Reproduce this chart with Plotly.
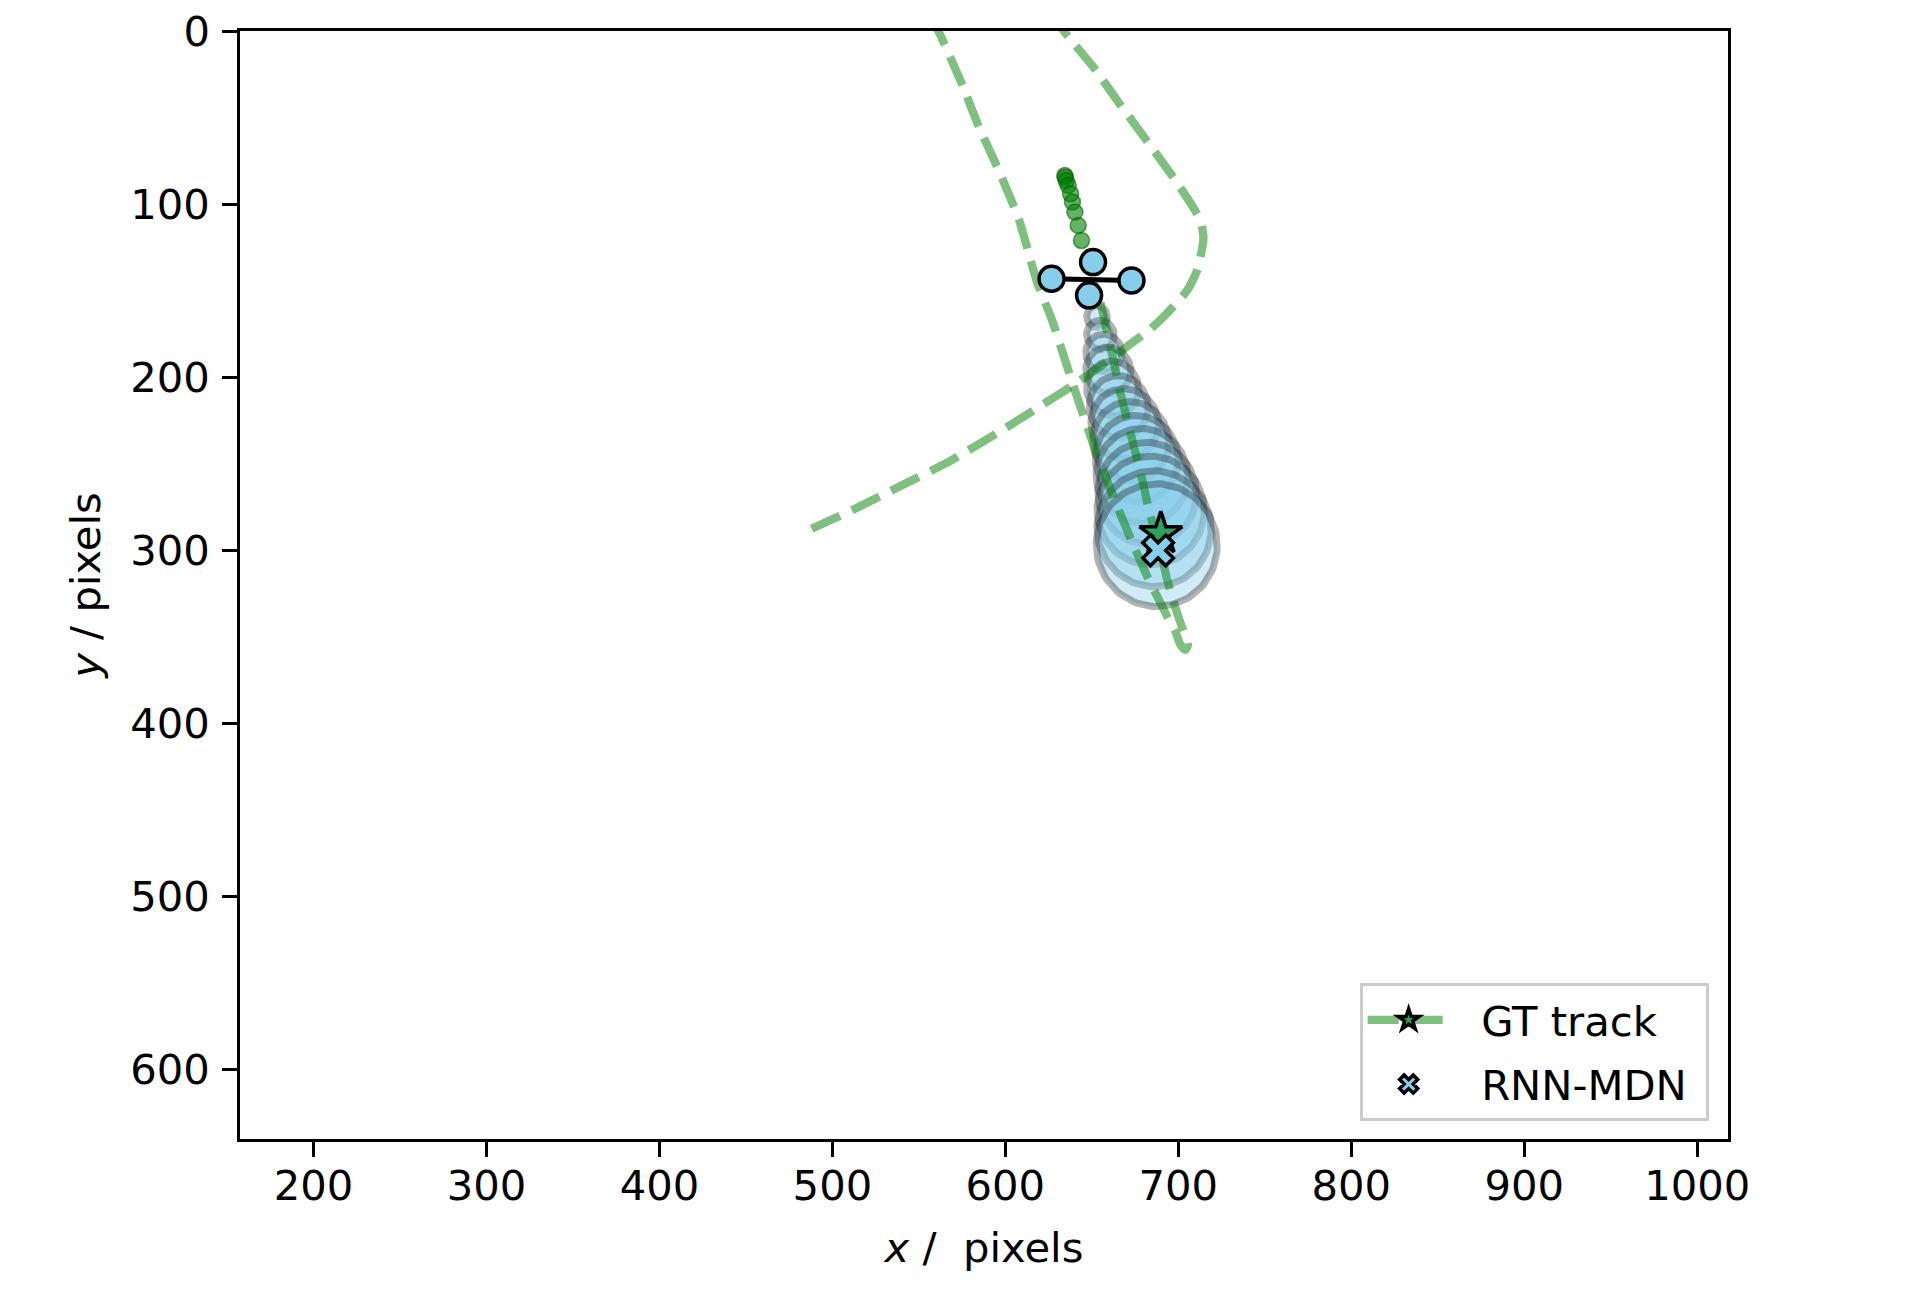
import numpy as np
import plotly.graph_objects as go

# ---------------- data ----------------
# GT track: curved segment (A) and long segment with hook (B), separated by None
gt_x = [488, 514, 537, 566, 599, 627.6, 643, 658, 672, 684, 693, 705, 711, 714.5, 713, 708.5,
        697, 681.6, 666, 651, 635, 628,
        None,
        557, 562, 574, 585, 597, 608, 618, 627, 634.5, 641, 652, 659, 666.5, 674.5, 682, 689,
        694, 698, 701, 704, 705.5, 704.5, 702.8, 700.8, 697, 693.2, 689.3, 683.5, 679.6,
        673.9, 666.2, 660.4, 654.6, 651]
gt_y = [287.5, 275.5, 264, 249.5, 230, 212, 202, 191.5, 181, 172, 163.5, 150, 138, 120, 110, 101.7,
        84.4, 63.2, 42, 21, 1.6, -8,
        None,
        -8, 1.6, 28.5, 56, 82.4, 109.4, 144, 167, 190, 210, 242, 260, 279, 298, 315, 329,
        339, 346, 354, 357.5, 355, 350, 346, 340.5, 329, 315.5, 298.2, 278.9, 261,
        238.4, 207.6, 180.6, 155.6, 145]

# GT position at prediction horizon
gt_star_x = [689.9]
gt_star_y = [290.4]

# RNN-MDN prediction (mean)
pred_x = [688.3]
pred_y = [300.0]

# predicted uncertainty ellipses (centre, half-widths, tilt in degrees)
ell_cx = [653, 655, 657, 659.5, 662, 665.5, 669, 672.5, 676, 679, 682, 684, 686, 687.5]
ell_cy = [165, 175.5, 186, 196, 206.5, 217, 227, 237, 247, 257, 267, 277, 287.5, 297]
ell_rx = [6, 8, 10.5, 13, 15, 17, 19.5, 22, 24, 26.5, 28.5, 31, 33, 35]
ell_ry = [6.5, 8.5, 11, 13.5, 16, 18, 20.5, 23, 25, 27.5, 29.5, 31.5, 33.5, 35.5]
ell_tilt = [14] * 14

# observed trail of the drone
trail_x = [634.4, 634.6, 635.2, 636.3, 637.7, 638.8, 640.2, 642.1, 644.0]
trail_y = [83.4, 84.5, 86.5, 89.2, 94.0, 98.8, 104.6, 112.3, 121.0]

# drone icon: arm (left-right rotors) and four rotors
arm_x = [626.7, 672.9]
arm_y = [143.1, 144.1]
rotor_x = [626.7, 672.9, 650.7, 648.4]
rotor_y = [143.1, 144.1, 133.5, 152.7]

x_ticks = [200, 300, 400, 500, 600, 700, 800, 900, 1000]
y_ticks = [0, 100, 200, 300, 400, 500, 600]
x_range = [157.5, 1017.8]
y_range = [640, 0]

FONT = "DejaVu Sans"
FS = 41.7
GT_LINE = "rgba(0,128,0,0.5)"
DASH = "31px,13px"

fig = go.Figure()

# ellipses
t = np.linspace(0, 2 * np.pi, 120)
for cx, cy, rx, ry, tl in zip(ell_cx, ell_cy, ell_rx, ell_ry, ell_tilt):
    ph = np.radians(tl)
    ex = cx + ry * np.cos(t) * np.sin(ph) + rx * np.sin(t) * np.cos(ph)
    ey = cy + ry * np.cos(t) * np.cos(ph) - rx * np.sin(t) * np.sin(ph)
    fig.add_trace(go.Scatter(
        x=ex, y=ey, mode="lines", fill="toself",
        fillcolor="rgba(135,206,235,0.38)",
        line=dict(color="rgba(0,0,0,0.3)", width=7),
        showlegend=False, hoverinfo="skip"))

# GT track line
fig.add_trace(go.Scatter(
    x=gt_x, y=gt_y, mode="lines", connectgaps=False,
    line=dict(color=GT_LINE, width=8.3, dash=DASH, shape="spline", smoothing=0.6),
    showlegend=False, hoverinfo="skip"))

# drone trail
fig.add_trace(go.Scatter(
    x=trail_x, y=trail_y, mode="markers",
    marker=dict(size=16, color="rgba(0,128,0,0.6)",
                line=dict(color="rgba(0,100,0,0.6)", width=1.5)),
    showlegend=False, hoverinfo="skip"))

# drone arm + rotors
fig.add_trace(go.Scatter(
    x=arm_x, y=arm_y, mode="lines", line=dict(color="black", width=5),
    showlegend=False, hoverinfo="skip"))
fig.add_trace(go.Scatter(
    x=rotor_x, y=rotor_y, mode="markers",
    marker=dict(size=25, color="skyblue", line=dict(color="black", width=3.5)),
    showlegend=False, hoverinfo="skip"))

# GT star (legend entry "GT track")
fig.add_trace(go.Scatter(
    x=gt_star_x, y=gt_star_y, mode="lines+markers", name="\u00a0\u00a0GT track",
    legendgroup="gt",
    line=dict(color=GT_LINE, width=8.3, dash=DASH),
    marker=dict(symbol="star", size=32, color="#2ca25f",
                line=dict(color="black", width=3.5))))

# RNN-MDN prediction
fig.add_trace(go.Scatter(
    x=pred_x, y=pred_y, mode="markers", name="\u00a0\u00a0RNN-MDN\u00a0",
    legendgroup="pred",
    marker=dict(symbol="x", size=27, color="skyblue",
                line=dict(color="black", width=3.5))))

axis_common = dict(
    showline=True, linecolor="black", linewidth=3.3, mirror=True,
    ticks="outside", ticklen=14.6, tickwidth=3.3, tickcolor="black",
    showgrid=False, zeroline=False, ticklabeloverflow="allow",
    tickfont=dict(family=FONT, size=FS, color="black"),
)

fig.update_layout(
    width=1912, height=1290,
    margin=dict(l=232, r=192, t=23, b=159, autoexpand=False),
    paper_bgcolor="white", plot_bgcolor="white",
    font=dict(family=FONT, size=FS, color="black"),
    xaxis=dict(range=x_range, tickvals=x_ticks, ticklabelstandoff=-7,
               title=dict(text="<i>x</i> / &nbsp;pixels", font=dict(family=FONT, size=FS), standoff=25),
               **axis_common),
    yaxis=dict(range=y_range, tickvals=y_ticks, ticklabelstandoff=4,
               title=dict(text="<i>y</i> / pixels", font=dict(family=FONT, size=FS), standoff=17),
               **axis_common),
    legend=dict(x=0.987, y=0.016, xanchor="right", yanchor="bottom",
                bgcolor="rgba(255,255,255,0.8)", bordercolor="#cccccc", borderwidth=3,
                font=dict(family=FONT, size=FS), itemwidth=82,
                tracegroupgap=7),
)

fig.write_html("out.html")
